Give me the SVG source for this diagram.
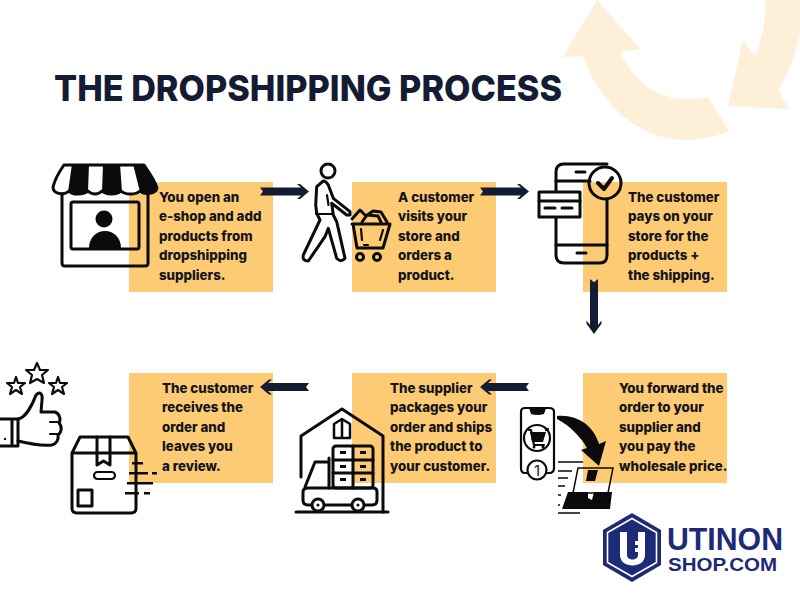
<svg xmlns="http://www.w3.org/2000/svg" width="800" height="600" viewBox="0 0 800 600">
<defs>
<style>
.box{fill:#fdcb73}
.t{font-family:"Inter","Liberation Sans",sans-serif;font-weight:800;font-size:13.3px;fill:#14141c}
.l{fill:none;stroke:#0b0b0d;stroke-width:3;stroke-linecap:round;stroke-linejoin:round}
.l2{fill:none;stroke:#0b0b0d;stroke-width:2.200;stroke-linecap:round;stroke-linejoin:round}
.k{fill:#0b0b0d}
.w{fill:#fff}
.bg{fill:#fef0d8}
.a{fill:#131c33}
.logo{fill:#1d2a78}
</style>
<path id="arrow-r" d="M0 -4H41L37 -7.500H40L49 0L40 7.500H37L41 4H0L3 0Z"/>
</defs>
<rect width="800" height="600" fill="#fff"/>
<g id="bg-arrows">
<path class="bg" d="M597 0L563 57L583 56C600 105 640 140 686 140C702 140 717 136 729 131L708 97C667 106 637 88 620 52L640 49Z"/>
<path class="bg" d="M765 0H800V33C796 55 788 75 778 90L789 109L728 106L743 40L755 56C763 38 766 20 765 0Z"/>
</g>
<text id="title" x="54" y="101" font-family="Inter,'Liberation Sans',sans-serif" font-weight="800" font-size="36" fill="#131c33" textLength="508" lengthAdjust="spacingAndGlyphs">THE DROPSHIPPING PROCESS</text>
<g id="node-1">
<rect class="box" x="129" y="182" width="144" height="110"/>
<path class="l" d="M62 193V263Q62 266 65 266H145Q148 266 148 263V193"/>
<rect class="l" x="71" y="202" width="68" height="47" rx="2"/>
<circle class="k" cx="104" cy="219" r="8.500"/>
<path class="k" d="M89 248C89 238 96 231 105 231C114 231 121 238 121 248Z"/>
<path class="w" d="M65 164H142L157 190L150 194H60L53 188Z"/>
<path class="l" d="M64 165H144C149 172 155 181 157 188C156 194 144 195 140 191C136 195 125 195 121 191C117 195 106 195 102 191C98 195 92 195 88 191C84 195 72 195 69 191C65 195 53 195 53 187C55 179 59 172 64 165Z"/>
<path class="k" d="M72 164H89L88 192C84 195 72 195 68 192ZM103 164H120L122 192C118 195 106 195 102 192ZM133 164H144C149 172 155 181 157 188C156 194 144 195 140 192Z"/>
<text class="t" x="159" y="202">You open an</text>
<text class="t" x="159" y="221">e-shop and add</text>
<text class="t" x="159" y="241">products from</text>
<text class="t" x="159" y="260">dropshipping</text>
<text class="t" x="159" y="280">suppliers.</text>
</g>
<g id="node-2">
<rect class="box" x="352" y="182" width="144" height="110"/>
<circle class="l" cx="328" cy="171" r="7"/>
<path class="l" d="M323.300 181L316.700 186.700L315.700 205L316.700 213.300L320 220L303.300 255Q302 261 308.300 261L325 236.700L328.300 228.300L336.700 258.300Q341 263 345 258.300L336.700 221.700L333.300 215L331.700 203.300L346.700 215L350 215L350 211.700L333.300 198.300L328.300 185Q326 181 323.300 181Z"/>
<path class="l2" d="M316 214H333M327 195L328.500 205"/>
<path class="l" d="M352 219L360 210L366 216L373 211L381 212L387 222M362 222L367 215L378 216L381 222"/>
<path class="l" d="M352 224H390M353 224L357 248H383L390 224"/>
<path class="l2" d="M361 229L362 240M383 230L380 240M364 245H368"/>
<circle class="l" cx="360" cy="257" r="3.500"/>
<circle class="l" cx="377" cy="257" r="3.500"/>
<text class="t" x="398" y="202">A customer</text>
<text class="t" x="398" y="221">visits your</text>
<text class="t" x="398" y="241">store and</text>
<text class="t" x="398" y="260">orders a</text>
<text class="t" x="398" y="280">product.</text>
</g>
<g id="node-3">
<rect class="box" x="583" y="182" width="144" height="110"/>
<path class="l" d="M607 164H564Q556 164 556 172V255Q556 263 564 263H600Q607 263 607 255V199"/>
<path class="l" d="M556 181H590M556 245H607"/>
<path class="l" d="M576 172H585M577 253H586"/>
<circle class="l" cx="605" cy="183" r="16"/>
<path class="l" style="stroke-width:4" d="M598 183L604 189L612 178"/>
<rect class="w" x="538" y="192" width="42" height="25"/>
<rect class="l" x="539" y="192" width="41" height="25"/>
<path class="l" d="M539 201H580M545 208H555M562 208H572"/>
<text class="t" x="628" y="202">The customer</text>
<text class="t" x="628" y="221">pays on your</text>
<text class="t" x="628" y="241">store for the</text>
<text class="t" x="628" y="260">products +</text>
<text class="t" x="628" y="280">the shipping.</text>
</g>
<g id="node-4">
<rect class="box" x="583" y="373" width="144" height="110"/>
<path class="l2" d="M525 408H549Q554 408 554 412V468Q554 473 549 473H525Q521 473 521 468V412Q521 408 525 408Z"/>
<path class="k" d="M529 408H546L544 414Q537 416 531 414Z"/>
<circle class="l2" cx="537" cy="438" r="13"/>
<path class="k" d="M530 432H546L543 442H532Z"/>
<path class="l2" d="M529 430H531L534 445H544M546 430L548 429"/>
<circle class="k" cx="534" cy="447" r="1.500"/>
<circle class="k" cx="543" cy="447" r="1.500"/>
<circle class="w" cx="537" cy="470" r="10"/>
<circle class="l2" cx="537" cy="470" r="9.500"/>
<text x="537" y="476" text-anchor="middle" font-family="Inter,'Liberation Sans',sans-serif" font-size="15" fill="#222">1</text>
<path class="k" d="M557 416C577 414 594 426 599 444L606 441L599 466L581 450L587 448C580 436 570 426 557 419Z"/>
<path fill="none" stroke="#0b0b0d" stroke-width="1.500" d="M578 468H613L608 493H573Z"/>
<path class="k" d="M588 470H598L595 481H586Z"/>
<path class="k" d="M568 492H588V498L592 500L594 492H612L610 509H562Z"/>
<path class="l2" style="stroke-width:1.500;stroke-linecap:butt" d="M558 462H583M558 471H572M558 478H568M558 486H565M558 495H561M558 505H560M558 513H580"/>
<text class="t" x="619" y="393">You forward the</text>
<text class="t" x="619" y="412">order to your</text>
<text class="t" x="619" y="432">supplier and</text>
<text class="t" x="619" y="451">you pay the</text>
<text class="t" x="619" y="471">wholesale price.</text>
</g>
<g id="node-5">
<rect class="box" x="352" y="373" width="144" height="110"/>
<path class="l" d="M301 477V436L342 409L383 436V512"/>
<path class="l" style="stroke-width:2.500" d="M334 438V424L342 419L350 424V438ZM342 421V437"/>
<path class="l" d="M296 512H388"/>
<rect class="l" x="333" y="446" width="40" height="42" rx="3"/>
<path class="l" d="M333 460H373M333 473H373M353 446V488"/>
<path class="k" d="M340 451h6v3h-6zM360 451h6v3h-6zM340 465h6v3h-6zM360 465h6v3h-6zM340 478h6v3h-6zM360 478h6v3h-6z"/>
<path class="l" d="M329 458V488M327 462H315L305 487"/>
<path class="l" d="M311 505H308Q303 505 303 500V492Q303 488 308 488H373Q377 488 377 492V500Q377 505 372 505H365M325 505H351"/>
<circle class="l" cx="318" cy="505" r="6"/>
<circle class="l" cx="358" cy="505" r="6"/>
<circle class="k" cx="318" cy="505" r="1.500"/>
<circle class="k" cx="358" cy="505" r="1.500"/>
<text class="t" x="390" y="393">The supplier</text>
<text class="t" x="390" y="412">packages your</text>
<text class="t" x="390" y="432">order and ships</text>
<text class="t" x="390" y="451">the product to</text>
<text class="t" x="390" y="471">your customer.</text>
</g>
<g id="node-6">
<rect class="box" x="129" y="373" width="144" height="110"/>
<path class="l2" d="M37 363L40 370H48L42 375L44 383L37 379L30 383L32 375L26 370H34Z"/>
<path class="l2" d="M16 377L18 383H25L20 387L22 394L16 390L10 394L12 387L7 383H14Z"/>
<path class="l2" d="M58 377L60 383H67L62 387L64 394L58 390L52 394L54 387L49 383H56Z"/>
<path class="l" d="M0 419H12V446H0M12 419H18V446H12"/>
<path class="l" d="M18 419C26 418 33 403 36 395C40 391 43 394 42 400L41 412H55C60 414 61 420 59 423C63 427 61 433 58 435C59 440 56 444 52 445C40 446 30 444 18 441"/>
<path class="l2" d="M50 422H59M50 434H58"/>
<circle class="k" cx="5" cy="439" r="1.200"/>
<path class="l" d="M72 453L80 437H128L136 453V508Q136 513 131 513H77Q72 513 72 508ZM72 453H136"/>
<path class="l" d="M97 437V465L103.500 461L110 465V437"/>
<rect class="l2" x="94" y="472" width="21" height="7" rx="3.500"/>
<rect class="l" x="78" y="490" width="14" height="16"/>
<path class="k" d="M132 462h11v2.500h-11zM129 472h19v2.500h-19zM152 472h5v2.500h-5zM127 482h26v2.500h-26zM125 492h14v2.500h-14zM144 492h6v2.500h-6z"/>
<text class="t" x="162" y="393">The customer</text>
<text class="t" x="162" y="412">receives the</text>
<text class="t" x="162" y="432">order and</text>
<text class="t" x="162" y="451">leaves you</text>
<text class="t" x="162" y="471">a review.</text>
</g>
<g id="connectors">
<use href="#arrow-r" class="a" transform="translate(260 191.500)"/>
<use href="#arrow-r" class="a" transform="translate(480 191.500)"/>
<use href="#arrow-r" class="a" transform="translate(594 279) rotate(90) scale(1.120 1)"/>
<use href="#arrow-r" class="a" transform="translate(529 387) rotate(180)"/>
<use href="#arrow-r" class="a" transform="translate(309 387) rotate(180)"/>
</g>
<g id="logo">
<path class="logo" d="M632 513L661 530V565L632 582L603 565V530Z"/>
<path fill="none" stroke="#fff" stroke-width="1.600" d="M632 518.500L656.500 532.500V562.500L632 576.500L607.500 562.500V532.500Z"/>
<path fill="#fff" d="M620 532H627V555C627 561 638 561 638 555V552H635V548H638V545H635V541H638V532H645V555C645 569 620 569 620 555Z"/>
<text x="667" y="550" font-family="'Liberation Sans',sans-serif" font-weight="700" font-size="32" fill="#1d2a78" textLength="116" lengthAdjust="spacingAndGlyphs">UTINON</text>
<text x="668" y="571" font-family="'Liberation Sans',sans-serif" font-weight="700" font-size="19" fill="#1d2a78" textLength="109" lengthAdjust="spacingAndGlyphs">SHOP.COM</text>
</g>
</svg>
